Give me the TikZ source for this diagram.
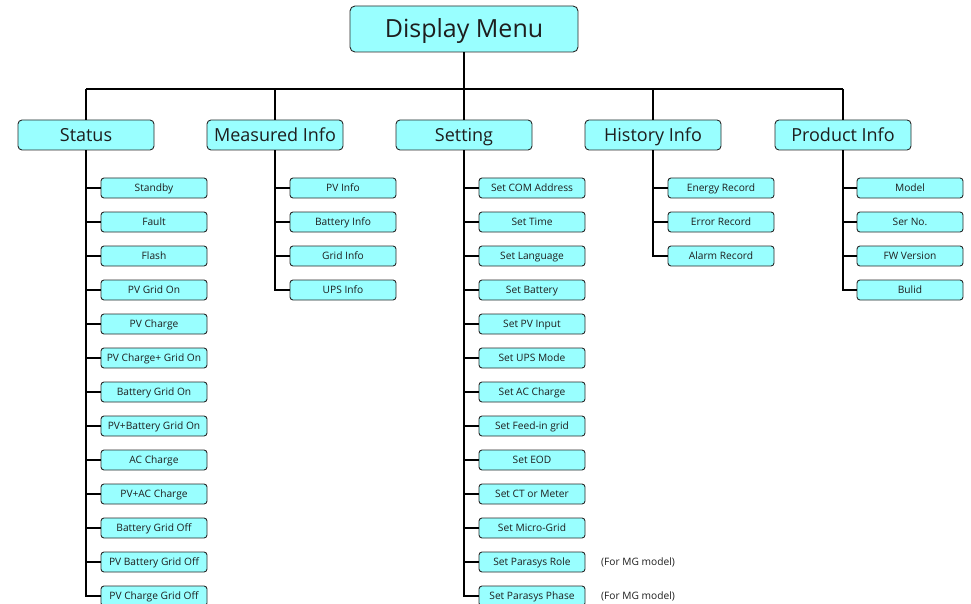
\documentclass[tikz,border=0pt]{standalone}
\usepackage{fontspec}
\setmainfont{Open Sans}
\definecolor{boxfill}{RGB}{153,255,255}
\definecolor{boxline}{RGB}{40,40,40}
\definecolor{txt}{RGB}{30,30,30}
\begin{document}
\begin{tikzpicture}[x=1pt,y=-1pt,
  topbox/.style={draw=boxline,fill=boxfill,rounded corners=5pt,line width=0.9pt,minimum width=228pt,minimum height=46pt,inner sep=0pt,text height=17.8pt,text depth=0pt,font=\fontsize{25}{27}\selectfont,text=txt},
  headbox/.style={draw=boxline,fill=boxfill,rounded corners=4pt,line width=0.9pt,minimum width=136pt,minimum height=30pt,inner sep=0pt,text height=12.9pt,text depth=0pt,font=\fontsize{18}{20}\selectfont,text=txt},
  itembox/.style={draw=boxline,fill=boxfill,rounded corners=3pt,line width=0.9pt,minimum width=106pt,minimum height=20pt,inner sep=0pt,text height=7.3pt,text depth=0pt,font=\fontsize{10.2}{12}\selectfont,text=txt},
  note/.style={anchor=west,inner sep=0pt,text height=7.3pt,text depth=0pt,font=\fontsize{10.2}{12}\selectfont,text=txt},
  conn/.style={line width=1.7pt,black}]
\useasboundingbox (0,0) rectangle (971,604);
\node[topbox] (dm) at (464,29) {Display Menu};
\coordinate (bus) at (464,89);
\node[headbox] (hs) at (86,135) {Status};
\node[headbox] (hm) at (275,135) {Measured Info};
\node[headbox] (ht) at (464,135) {Setting};
\node[headbox] (hh) at (653,135) {History Info};
\node[headbox] (hp) at (843,135) {Product Info};
% connectors top
\draw[conn] (dm.south) -- (bus);
\draw[conn] (hs.north |- bus) -- (hp.north |- bus);
\foreach \h in {hs,hm,ht,hh,hp} \draw[conn] (\h.north |- bus) -- (\h.north);
% Status items
\foreach \t [count=\i] in {Standby,Fault,Flash,PV Grid On,PV Charge,PV Charge+ Grid On,Battery Grid On,PV+Battery Grid On,AC Charge,PV+AC Charge,Battery Grid Off,PV Battery Grid Off,PV Charge Grid Off}{
  \node[itembox] (s\i) at (154,154+34*\i) {\t};
  \draw[conn] (hs.south) |- (s\i.west);
}
% Measured items
\foreach \t [count=\i] in {PV Info,Battery Info,Grid Info,UPS Info}{
  \node[itembox] (m\i) at (343,154+34*\i) {\t};
  \draw[conn] (hm.south) |- (m\i.west);
}
% Setting items
\foreach \t [count=\i] in {Set COM Address,Set Time,Set Language,Set Battery,Set PV Input,Set UPS Mode,Set AC Charge,Set Feed-in grid,Set EOD,Set CT or Meter,Set Micro-Grid,Set Parasys Role,Set Parasys Phase}{
  \node[itembox] (t\i) at (532,154+34*\i) {\t};
  \draw[conn] (ht.south) |- (t\i.west);
}
% History items
\foreach \t [count=\i] in {Energy Record,Error Record,Alarm Record}{
  \node[itembox] (h\i) at (721,154+34*\i) {\t};
  \draw[conn] (hh.south) |- (h\i.west);
}
% Product items
\foreach \t [count=\i] in {Model,Ser No.,FW Version,Bulid}{
  \node[itembox] (p\i) at (910,154+34*\i) {\t};
  \draw[conn] (hp.south) |- (p\i.west);
}
\node[note] (n1) at (601,562) {(For MG model)};
\node[note] (n2) at (601,596) {(For MG model)};
\end{tikzpicture}
\end{document}
